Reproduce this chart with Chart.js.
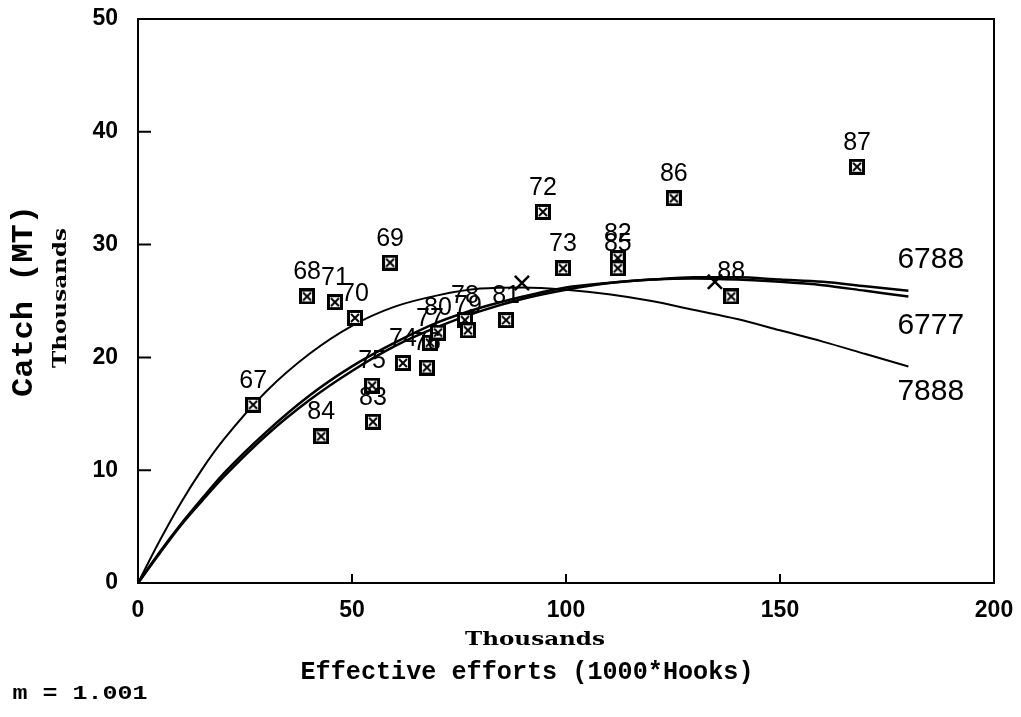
<!DOCTYPE html>
<html>
<head>
<meta charset="utf-8">
<script src="https://cdn.jsdelivr.net/npm/chart.js@4.4.1/dist/chart.umd.min.js"></script>
<style>
  html, body { margin: 0; padding: 0; background: #fff; }
  #wrap { width: 1021px; height: 717px; position: relative; }
</style>
</head>
<body>
<div id="wrap"><canvas id="myChart"></canvas></div>
<script>
// yearly observations (effort and catch in thousands)
const years = ['67','68','69','70','71','72','73','74','75','76','77','78','79','80','81','82','83','84','85','86','87','88'];
const effort = [26.9, 39.5, 58.9, 50.7, 46.0, 94.6, 99.3, 61.9, 54.7, 67.5, 68.2, 76.4, 77.1, 70.1, 86.0, 112.1, 54.9, 42.8, 112.1, 125.2, 168.0, 138.6];
const catchT = [15.8, 25.4, 28.4, 23.5, 24.9, 32.9, 27.9, 19.5, 17.5, 19.1, 21.3, 23.3, 22.4, 22.2, 23.3, 28.8, 14.3, 13.0, 27.9, 34.1, 36.9, 25.4];

// fitted curves
const curveX = [0, 5, 10, 15, 20, 30, 40, 50, 60, 70, 80, 90, 100, 110, 120, 130, 140, 150, 160, 170, 180];
const fit6788 = [0, 2.6, 5.1, 7.3, 9.4, 13.1, 16.2, 18.8, 21.0, 22.7, 24.1, 25.2, 26.0, 26.6, 26.9, 27.1, 27.1, 26.9, 26.7, 26.3, 25.9];
const fit6777 = [0, 2.7, 5.2, 7.5, 9.7, 13.4, 16.6, 19.2, 21.3, 23.1, 24.4, 25.4, 26.2, 26.6, 26.9, 27.0, 26.9, 26.7, 26.4, 25.9, 25.4];
const fit7888 = [0, 3.7, 7.1, 10.1, 12.7, 17.0, 20.3, 22.8, 24.5, 25.5, 26.1, 26.2, 26.0, 25.6, 25.0, 24.2, 23.4, 22.4, 21.4, 20.3, 19.2];
const curveNames = ['6788', '6777', '7888'];

// maxima marks
const peakEffort = [89.7, 134.8];
const peakCatch = [26.6, 26.7];

const xTicks = [0, 50, 100, 150, 200];
const yTicks = [0, 10, 20, 30, 40, 50];

function makeBoxMark() {
    const c = document.createElement('canvas');
    c.width = 16; c.height = 16;
    const g = c.getContext('2d');
    g.fillStyle = '#000';
    g.fillRect(0, 0, 16, 16);
    g.fillStyle = '#fff';
    g.fillRect(3, 3, 10, 10);
    g.strokeStyle = '#000';
    g.lineWidth = 2;
    g.beginPath();
    g.moveTo(4, 4); g.lineTo(12, 12);
    g.moveTo(12, 4); g.lineTo(4, 12);
    g.stroke();
    return c;
}

function fitText(ctx, text, font, cx, cy, width, vertical) {
    ctx.save();
    ctx.font = font;
    const w = ctx.measureText(text).width;
    ctx.translate(cx, cy);
    if (vertical) ctx.rotate(-Math.PI / 2);
    ctx.scale(width / w, 1);
    ctx.textAlign = 'center';
    ctx.textBaseline = 'middle';
    ctx.fillStyle = '#000';
    ctx.fillText(text, 0, 0);
    ctx.restore();
}

const decorations = {
    id: 'decorations',
    afterDatasetsDraw(chart) {
        const ctx = chart.ctx;
        const xs = chart.scales.x, ys = chart.scales.y;
        const a = chart.chartArea;

        // frame
        ctx.save();
        ctx.strokeStyle = '#000';
        ctx.lineWidth = 2;
        ctx.strokeRect(a.left, a.top, a.right - a.left, a.bottom - a.top);
        // inward tick marks
        ctx.beginPath();
        yTicks.forEach(v => {
            const py = ys.getPixelForValue(v);
            ctx.moveTo(a.left, py); ctx.lineTo(a.left + 13, py);
        });
        xTicks.forEach(v => {
            const px = xs.getPixelForValue(v);
            ctx.moveTo(px, a.bottom); ctx.lineTo(px, a.bottom - 9);
        });
        ctx.stroke();

        // year labels above markers
        const meta = chart.getDatasetMeta(0);
        ctx.font = '25px "Liberation Sans", Arial, sans-serif';
        ctx.fillStyle = '#000';
        ctx.textAlign = 'center';
        ctx.textBaseline = 'middle';
        meta.data.forEach((pt, i) => {
            ctx.fillText(years[i], pt.x, pt.y - 24);
        });

        // curve names at the right end
        const ends = [fit6788, fit6777, fit7888];
        const offs = [-31, 29, 25];
        ctx.font = '30px "Liberation Sans", Arial, sans-serif';
        ctx.textAlign = 'left';
        ends.forEach((arr, i) => {
            const px = xs.getPixelForValue(curveX[curveX.length - 1]);
            const py = ys.getPixelForValue(arr[arr.length - 1]);
            ctx.fillText(curveNames[i], px - 11, py + offs[i]);
        });
        ctx.restore();

        // axis titles
        fitText(ctx, 'Catch (MT)', 'bold 30px "Liberation Mono", monospace', 24, 301, 192, true);
        fitText(ctx, 'Thousands', 'bold 19px "DejaVu Serif", serif', 61, 298, 140, true);
        fitText(ctx, 'Thousands', 'bold 19px "DejaVu Serif", serif', 535, 640, 140, false);
        fitText(ctx, 'Effective efforts (1000*Hooks)', 'bold 25px "Liberation Mono", monospace', 527, 673, 453, false);
        fitText(ctx, 'm = 1.001', 'bold 20px "Liberation Mono", monospace', 80, 694, 135, false);
    }
};

const boxMark = makeBoxMark();
const toPts = (xa, ya) => xa.map((x, i) => ({ x: x, y: ya[i] }));

const data = {
    datasets: [
        {
            label: 'years',
            data: toPts(effort, catchT),
            pointStyle: boxMark,
            pointRadius: 8,
            showLine: false
        },
        {
            label: curveNames[0],
            data: toPts(curveX, fit6788),
            showLine: true,
            borderColor: '#000',
            borderWidth: 2.5,
            pointRadius: 0,
            cubicInterpolationMode: 'monotone'
        },
        {
            label: curveNames[1],
            data: toPts(curveX, fit6777),
            showLine: true,
            borderColor: '#000',
            borderWidth: 2.5,
            pointRadius: 0,
            cubicInterpolationMode: 'monotone'
        },
        {
            label: curveNames[2],
            data: toPts(curveX, fit7888),
            showLine: true,
            borderColor: '#000',
            borderWidth: 2,
            pointRadius: 0,
            cubicInterpolationMode: 'monotone'
        },
        {
            label: 'max',
            data: toPts(peakEffort, peakCatch),
            showLine: false,
            pointStyle: 'crossRot',
            pointRadius: 10,
            borderColor: '#000',
            borderWidth: 2.5
        }
    ]
};

const tickFont = { family: '"Liberation Sans", Arial, sans-serif', size: 23, weight: 'bold' };

const config = {
    type: 'scatter',
    data: data,
    options: {
        responsive: false,
        animation: false,
        devicePixelRatio: 1,
        layout: {
            padding: { left: 0, right: 27, top: 19, bottom: 0 }
        },
        plugins: {
            legend: { display: false },
            tooltip: { enabled: false }
        },
        scales: {
            x: {
                type: 'linear',
                min: 0,
                max: 200,
                grid: { display: false, drawTicks: false },
                border: { display: false },
                afterFit: s => { s.height = 134; s.paddingLeft = 0; s.paddingRight = 0; },
                ticks: {
                    stepSize: 50,
                    padding: 14,
                    color: '#000',
                    font: tickFont
                }
            },
            y: {
                type: 'linear',
                min: 0,
                max: 50,
                grid: { display: false, drawTicks: false },
                border: { display: false },
                afterFit: s => { s.width = 138; s.paddingTop = 0; s.paddingBottom = 0; },
                ticks: {
                    stepSize: 10,
                    padding: 20,
                    color: '#000',
                    font: tickFont
                }
            }
        }
    },
    plugins: [decorations]
};

const cv = document.getElementById('myChart');
cv.width = 1021;
cv.height = 717;
new Chart(cv, config);
</script>
</body>
</html>
